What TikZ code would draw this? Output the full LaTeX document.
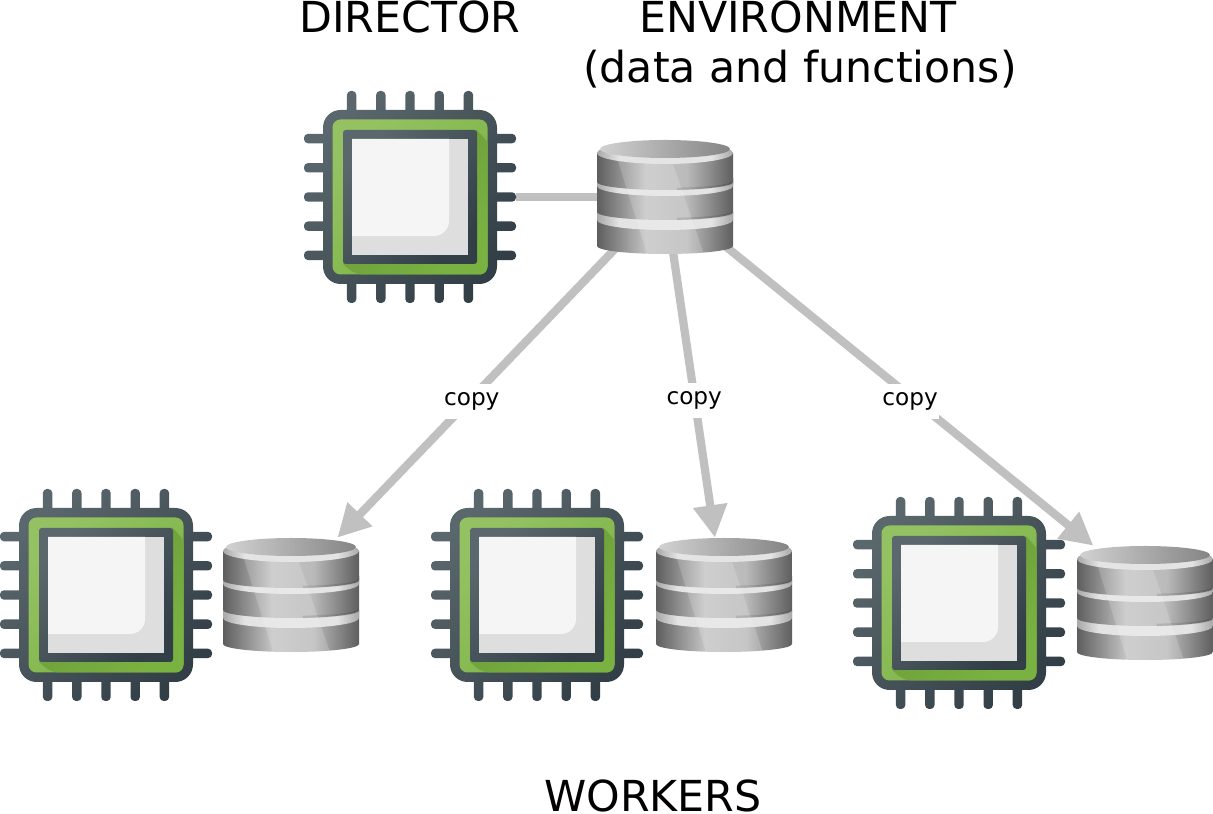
\documentclass[tikz,border=0pt]{standalone}
\usepackage{fontspec}
\setmainfont{DejaVu Sans}
\usepackage{xcolor}
\usetikzlibrary{arrows.meta}

\definecolor{pinlight}{HTML}{5A676C}
\definecolor{pindark}{HTML}{333F47}
\definecolor{boardlight}{HTML}{94C263}
\definecolor{boarddark}{HTML}{7AB241}
\definecolor{linkgray}{HTML}{C0C0C0}
\definecolor{dbedge}{HTML}{5E5E5E}
\definecolor{dbmid}{HTML}{C4C4C4}
\definecolor{rimedge}{HTML}{A8A8A8}
\definecolor{rimmid}{HTML}{E4E4E4}
\pgfdeclarehorizontalshading{dbside}{100bp}{color(0bp)=(dbedge); color(25bp)=(dbedge); color(43bp)=(dbmid); color(58bp)=(dbmid!95!black); color(75bp)=(dbedge); color(100bp)=(dbedge)}
\pgfdeclarehorizontalshading{dbrim}{100bp}{color(0bp)=(rimedge); color(25bp)=(rimedge); color(33bp)=(rimmid); color(67bp)=(rimmid); color(75bp)=(rimedge); color(100bp)=(rimedge)}

% one tier of the stack: top side, bottom side, hidden part above the top side
\newcommand{\dbtier}[3]{
    \shade[shading=dbside] (-68,#1+#3) -- (-68,#2) arc[start angle=180, end angle=360, x radius=68, y radius=8] -- (68,#1+#3) -- cycle;
    \shade[shading=dbrim] (-68,#1+#3) -- (-68,#1) arc[start angle=180, end angle=360, x radius=68, y radius=10] -- (68,#1+#3) -- cycle;
}

\tikzset{
    chipbox/.style={minimum width=4.24cm, minimum height=4.24cm, inner sep=0pt},
    dbbox/.style={minimum width=2.72cm, minimum height=2.28cm, inner sep=0pt},
    caption/.style={font=\fontsize{24.3}{29}\selectfont, inner sep=0pt, align=center},
    link/.style={color=linkgray, line width=4.7pt},
    copylink/.style={link, -{Triangle[length=18.5pt, width=18.5pt]}},
    copylabel/.style={fill=white, text=black, font=\fontsize{13.2}{15}\selectfont, inner sep=1pt, minimum height=20pt},
    chip/.pic={
        % pins and outer frame
        \shade[top color=pinlight, bottom color=pindark, shading angle=45]
            \foreach \p in {-58.4,-29.2,0,29.2,58.4} {
                (-106,\p-4.7) [rounded corners=2.25pt] rectangle (106,\p+4.7)
                (\p-4.7,-106) rectangle (\p+4.7,106)
            }
            [rounded corners=10pt] (-87,-87) rectangle (87,87);
        \shade[rounded corners=4.5pt, top color=boardlight, bottom color=boarddark, shading angle=45] (-77.5,-77.5) rectangle (77.5,77.5);
        % shadow of the inner frame
        \shade[top color=black!15!boarddark, bottom color=boarddark, shading angle=45] (67,67) -- (77.5,55) [rounded corners=4.5pt] -- (77.5,-77.5) -- (-55,-77.5) [sharp corners] -- (-67,-67) -- cycle;
        \shade[rounded corners=1.5pt, top color=pinlight, bottom color=pindark, shading angle=45] (-67,-67) rectangle (67,67);
        \fill[black!13] (-58,-58) rectangle (58,58);
        \fill[black!4] (-58,58) -- (39,58) -- (39,-24) arc[start angle=0, end angle=-90, radius=15] -- (-58,-39) -- cycle;
    },
    database/.pic={
        \dbtier{-23}{-49}{8}
        \dbtier{11}{-15}{8}
        \dbtier{44}{15}{0}
        % lighter strip across the tiers
        \begin{scope}
            \clip (-68,44) -- (-68,-49) arc[start angle=180, end angle=360, x radius=68, y radius=8] -- (68,44) -- cycle;
            \fill[white, opacity=0.18] (-47,36) -- (-17,-60) -- (40,-60) -- (7,36) -- cycle;
        \end{scope}
        % grooves under the upper tiers
        \draw[black, opacity=0.1, line width=1.4pt] ([shift={(280:68 and 7)}]0,15) arc[start angle=280, end angle=358, x radius=68, y radius=7];
        \draw[black, opacity=0.1, line width=1.4pt] ([shift={(280:68 and 7)}]0,-15) arc[start angle=280, end angle=358, x radius=68, y radius=7];
        % top face
        \shade[shading=dbrim] (0,44) ellipse[x radius=68, y radius=11];
        \shade[left color=black!18, right color=black!48] (0,48) ellipse[x radius=65, y radius=9];
    }
}

\begin{document}
\begin{tikzpicture}[x=0.02cm, y=0.02cm]
    \useasboundingbox (0,0) rectangle (1213,814);

    % Director and its environment
    \node[chipbox] (director) at (410,617) {};
    \node[dbbox] (env) at (665,617) {};

    % Workers
    \node[chipbox] (chipA) at (106,219) {};
    \node[dbbox] (dbA) at (291,219) {};
    \node[chipbox] (chipB) at (537,219) {};
    \node[dbbox] (dbB) at (724,219) {};
    \node[chipbox] (chipC) at (959,211) {};
    \node[dbbox] (dbC) at (1145,211) {};

    % Titles
    \node[caption, anchor=base] (dirtitle) at (410,781) {DIRECTOR};
    \node[caption, anchor=base] (envtitle) at (798,781) {ENVIRONMENT};
    \node[caption, anchor=base] (envsub) at (800,731) {(data and functions)};
    \node[caption, anchor=base] (worktitle) at (653,2) {WORKERS};

    % Connections
    \draw[link] (director) -- (env);
    \draw[copylink] (env.center) -- node[copylabel, pos=0.59, yshift=-2pt] (copyA) {copy} (dbA.51);
    \draw[copylink] (env.center) -- node[copylabel, pos=0.585, yshift=-2.3pt] (copyB) {copy} (dbB.99);
    \draw[copylink] (env.center) -- node[copylabel, pos=0.572, yshift=-3pt] (copyC) {copy} (dbC.132);

    % Icons on top of the lines
    \foreach \c in {director,chipA,chipB,chipC} {
        \pic at (\c) {chip};
    }
    \foreach \d in {env,dbA,dbB,dbC} {
        \pic at (\d) {database};
    }
\end{tikzpicture}
\end{document}
